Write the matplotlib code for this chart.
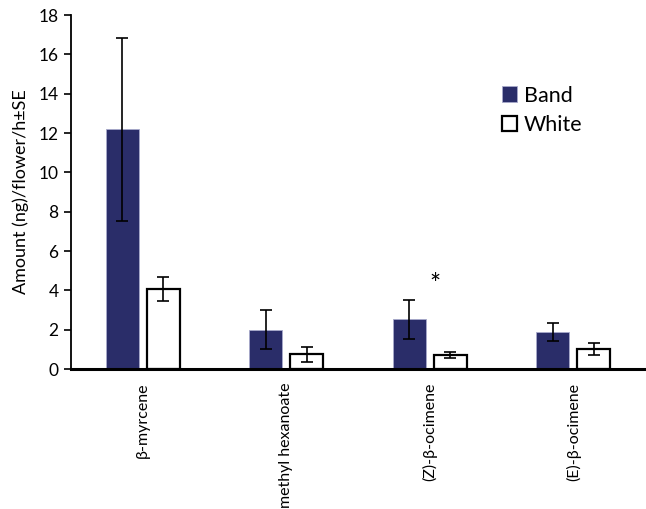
import numpy as np
import matplotlib.pyplot as plt

compounds = ["β-myrcene", "methyl hexanoate", "(Z)-β-ocimene", "(E)-β-ocimene"]
band_mean = [12.2, 2.0, 2.52, 1.88]
band_se = [4.65, 1.0, 0.98, 0.46]
white_mean = [4.07, 0.75, 0.70, 1.02]
white_se = [0.6, 0.38, 0.15, 0.29]
significant = [False, False, True, False]

plt.rcParams['font.family'] = ['Lato', 'DejaVu Sans']

fig = plt.figure(figsize=(6.46, 5.09), dpi=100)
ax = fig.add_axes([71 / 646, 1 - 369 / 509, 574 / 646, 354 / 509])

x = np.arange(len(compounds))
w = 0.23
gap = 0.028

ax.bar(x - w / 2 - gap, band_mean, w, color="#2a2d69", edgecolor="#a8aacb",
       linewidth=0.6, label="Band", zorder=2)
ax.bar(x + w / 2 + gap, white_mean, w, color="white", edgecolor="black",
       linewidth=1.6, label="White", zorder=2)
ax.errorbar(x - w / 2 - gap, band_mean, yerr=band_se, fmt="none", ecolor="black",
            elinewidth=1.2, capsize=4, capthick=1.2, zorder=3)
ax.errorbar(x + w / 2 + gap, white_mean, yerr=white_se, fmt="none", ecolor="black",
            elinewidth=1.2, capsize=4, capthick=1.2, zorder=3)

for i, sig in enumerate(significant):
    if sig:
        ax.text(x[i] + 0.035, band_mean[i] + band_se[i] + 0.75, "*",
                ha="center", va="center", fontsize=19)

ax.set_xlim(-0.5, len(compounds) - 0.5)
ax.set_ylim(0, 18)
ax.set_yticks(np.arange(0, 19, 2))
ax.set_xticks(x)
ax.set_xticklabels(compounds, rotation=90, va="top", fontsize=11.5)
ax.tick_params(axis="x", length=0, pad=10)
ax.tick_params(axis="y", length=5, width=1.2, labelsize=12.5, pad=4)
ax.set_ylabel("Amount (ng)/flower/h±SE", fontsize=13, labelpad=7)

for s in ["top", "right"]:
    ax.spines[s].set_visible(False)
ax.spines["left"].set_linewidth(1.3)
ax.spines["bottom"].set_linewidth(2.2)

ax.legend(loc="upper left", bbox_to_anchor=(0.735, 0.825), frameon=False,
          fontsize=15.5, handlelength=0.7, handleheight=0.7, handletextpad=0.35,
          labelspacing=0.45, borderaxespad=0)

fig.savefig("out.png", dpi=100)
